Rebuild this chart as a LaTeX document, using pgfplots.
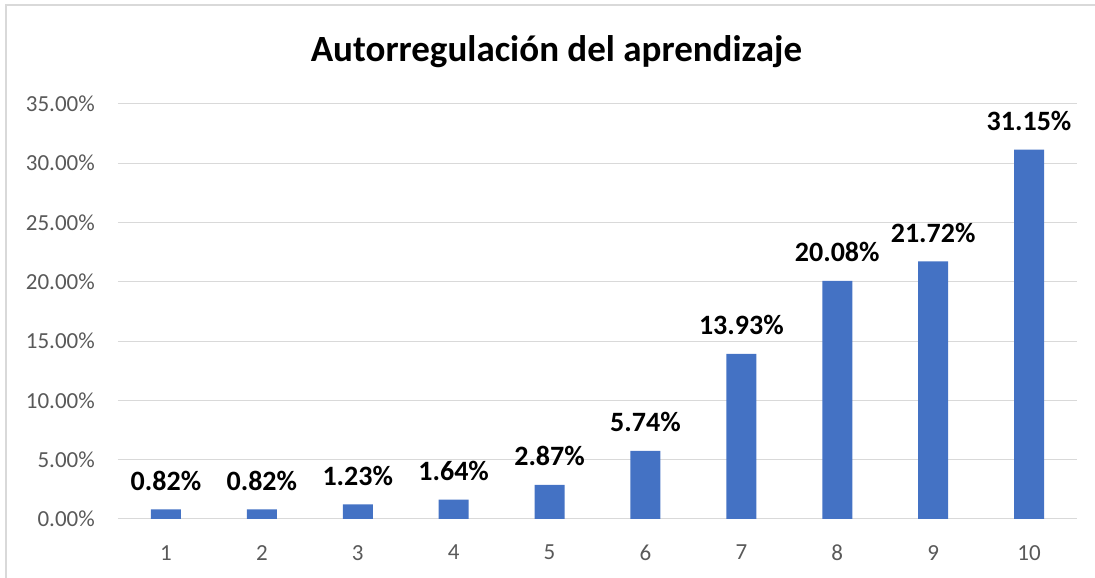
\documentclass[border=0pt]{standalone}
\usepackage{pgfplots}
\pgfplotsset{compat=1.18}
\usepackage{fontspec}
\setmainfont{Carlito}
\definecolor{barblue}{HTML}{4472C4}
\definecolor{gridgray}{HTML}{D9D9D9}
\definecolor{ticktext}{HTML}{595959}

\begin{document}
\begin{tikzpicture}[x=1pt,y=1pt]
\useasboundingbox (0,0) rectangle (1095,578);
% chart frame (right and bottom edges fall outside the picture)
\draw[gridgray, line width=1.2pt] (6,0) -- (6,573) -- (1095,573);

\node[anchor=base, inner sep=0pt, font=\fontsize{37}{44}\selectfont\bfseries]
  at (556.5,516) {Autorregulación del aprendizaje};

\begin{axis}[
    at={(118pt,59pt)}, anchor=south west,
    scale only axis,
    width=959pt, height=415.1pt,
    xmin=0.5, xmax=10.5,
    ymin=0, ymax=35,
    xtick={1,...,10},
    ytick={0,5,...,35},
    major tick length=0pt,
    axis line style={draw=none},
    ymajorgrids,
    grid style={gridgray, line width=1pt},
    /pgf/number format/assume math mode=true,
    yticklabel={\pgfmathprintnumber[fixed,fixed zerofill,precision=2]{\tick}\%},
    yticklabel style={font=\fontsize{23}{27}\selectfont, text=ticktext,
        inner sep=0pt, anchor=east, xshift=-23pt},
    xticklabel style={font=\fontsize{23}{27}\selectfont, text=ticktext,
        inner sep=0pt, anchor=north, yshift=-26pt},
    clip=false,
    ybar, bar width=30pt, bar shift=0pt,
    nodes near coords={\pgfmathprintnumber[fixed,fixed zerofill,precision=2]{\pgfplotspointmeta}\%},
    nodes near coords style={font=\fontsize{28}{33}\selectfont\bfseries,
        text=black, inner sep=0pt, anchor=base, yshift=19pt},
]
\addplot[fill=barblue, draw=none] coordinates {
    (1,0.82) (2,0.82) (3,1.23) (4,1.64) (5,2.87)
    (6,5.74) (7,13.93) (8,20.08) (9,21.72) (10,31.15)
};
\end{axis}
\end{tikzpicture}
\end{document}
